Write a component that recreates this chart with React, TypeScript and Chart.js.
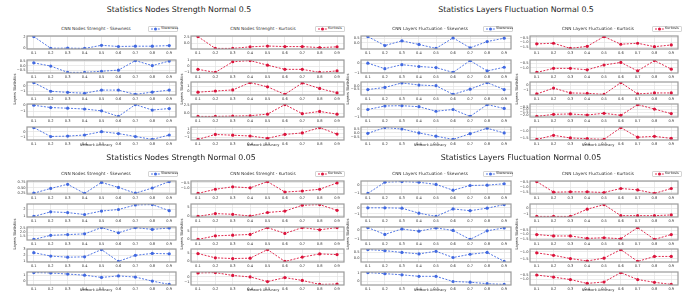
import React, { useEffect, useRef } from "react";
import { Chart, registerables } from "chart.js";

Chart.register(...registerables);

const FONT = "'DejaVu Sans', sans-serif";
const BLUE = "#4169e1";
const RED = "#dc143c";

// x axis: network accuracy
const accuracy = [0.1, 0.2, 0.3, 0.4, 0.5, 0.6, 0.7, 0.8, 0.9];

// ---- Statistics Nodes Strength Normal 0.5 ----
const nsN05Skew = [
  [2.0, 0.0, 0.02, -0.03, 0.5, 0.3, 0.35, 0.35, 0.45],
  [0.3, -0.05, -0.75, -0.75, -0.62, -0.5, 0.55, 0.0, 0.5],
  [0.57, -1.0, -1.2, -1.36, -0.79, -0.79, -1.57, -1.14, -0.79],
  [-0.1, -0.45, -0.55, -0.67, -0.95, -1.8, 0.0, -0.83, -0.6],
  [0.8, -0.93, -0.86, -0.64, 0.0, -0.36, -0.93, -1.5, -0.64],
];
const nsN05SkewTicks = [[0, 2], [-0.5, 0, 0.5], [-1, 0], [-1, 0], [-1, 0]];

const nsN05Kurt = [
  [2.6, -1.9, -1.9, -1.3, -1.0, -1.2, -1.2, -1.6, -1.3],
  [-0.5, -1.0, 0.75, 0.94, 0.19, -0.5, -0.5, -1.0, -0.75],
  [-0.15, 0.08, 0.3, 1.77, 0.92, -0.6, 1.7, 0.6, -0.3],
  [-0.9, -0.9, -0.8, -0.7, -0.23, 2.6, -0.1, 0.57, -0.23],
  [-1.6, -0.3, -0.5, -0.7, -1.3, -0.3, 0.1, 1.5, -0.2],
];
const nsN05KurtTicks = [[0, 2.5], [-1, 0, 1], [0, 1], [0, 2.5], [-1, 0, 1]];

// ---- Statistics Layers Fluctuation Normal 0.5 ----
const lfN05Skew = [
  [0.73, -0.31, 0.23, -0.19, -0.65, 0.58, -0.58, 0.15, 0.54],
  [0.04, -0.56, -0.12, -0.32, -0.44, -0.96, 0.32, -0.8, -0.4],
  [-0.56, -0.19, 0.63, 0.25, 0.13, -1.44, -0.5, 0.69, -0.56],
  [0.0, 0.48, 0.52, 0.38, -0.24, 0.0, -0.95, 0.67, 0.14],
  [-0.05, 0.71, 0.52, 0.0, -0.43, -0.86, -0.1, 0.62, 0.0],
];
const lfN05SkewTicks = [[0, 0.5], [-1, 0], [-0.5, 0], [-1, 0], [-0.5, 0, 0.5]];

const lfN05Kurt = [
  [-1.15, -1.08, -1.65, -1.42, -0.35, -1.19, -1.08, -1.46, -1.27],
  [-1.46, -1.04, -1.04, -1.19, -0.69, -0.42, -1.31, -0.23, -1.12],
  [-1.9, -0.58, -1.67, -1.75, -2.0, 0.67, -1.9, -1.67, -1.67],
  [-2.25, -1.88, -1.81, -2.0, -1.69, -2.06, -0.13, -0.94, -1.75],
  [-1.6, -1.32, -1.5, -1.55, -1.6, -0.79, -1.45, -1.39, -1.53],
];
const lfN05KurtTicks = [[-1.5, -1, -0.5], [-1, -0.5], [-1, 0], [-2, -1.5, -1, -0.5], [-1.5, -1]];

// ---- Statistics Nodes Strength Normal 0.05 ----
const nsN005Skew = [
  [0.23, 0.46, 0.66, 0.22, 0.75, 0.51, 0.23, 0.48, 0.79],
  [1.0, 1.63, 1.53, 1.26, 1.74, 1.95, 2.58, 2.63, 1.79],
  [1.0, 1.55, 1.65, 1.75, 2.6, 1.9, 2.6, 2.35, 2.55],
  [2.44, 1.88, 1.69, 1.75, 2.94, 1.0, 2.0, 2.31, 2.25],
  [1.57, 1.5, 1.29, 1.07, 0.64, 0.93, 0.71, -0.07, -0.71],
];
const nsN005SkewTicks = [[0.25, 0.5, 0.75], [1, 2], [1.5, 2, 2.5], [1, 2, 3], [0, 1]];

const nsN005Kurt = [
  [-1.53, -1.13, -0.9, -1.0, -0.4, -1.4, -1.3, -1.13, -0.53],
  [-0.4, 1.3, 0.87, -0.2, 1.96, 2.8, 6.3, 6.7, 3.26],
  [-0.2, 2.05, 2.5, 2.95, 7.3, 3.6, 7.3, 5.9, 7.3],
  [4.76, 1.9, 1.43, 1.67, 7.4, -0.48, 2.38, 4.52, 4.05],
  [0.79, 0.86, 0.29, 0.0, -0.93, -0.14, -0.71, -1.5, -1.43],
];
const nsN005KurtTicks = [[-1, -0.5], [0, 5], [0, 5], [0, 5], [-1, 0]];

// ---- Statistics Layers Fluctuation Normal 0.05 ----
const lfN005Skew = [
  [-1.0, 0.35, 0.43, 0.35, 0.09, -0.61, -0.04, 0.0, 0.17],
  [0.0, 0.0, -0.06, -0.88, -1.41, -0.18, -0.47, -0.06, 0.53],
  [0.33, -0.46, 0.17, -0.08, 0.29, 0.0, -1.04, -0.04, 0.29],
  [0.69, 0.61, 0.47, 0.36, 0.56, 0.08, 0.33, 0.47, -0.22],
  [1.0, 0.88, 0.75, 0.58, 0.58, 0.0, -0.08, -0.25, -0.33],
];
const lfN005SkewTicks = [[-1, 0], [-1, 0], [-1, 0], [0, 0.5], [0, 1]];

const lfN005Kurt = [
  [-0.47, -1.5, -1.47, -1.47, -1.53, -1.14, -1.28, -1.62, -1.14],
  [-1.47, -1.47, -1.47, -0.13, 0.73, -1.33, -1.33, -1.33, -1.2],
  [-1.0, -1.17, -1.17, -1.46, -1.38, -1.5, -0.17, -1.58, -1.0],
  [-1.08, -1.25, -1.48, -1.65, -1.45, -0.85, -1.68, -1.33, -1.33],
  [-0.46, -0.71, -1.0, -1.46, -1.29, -0.17, -1.0, -1.33, -1.58],
];
const lfN005KurtTicks = [[-1.5, -1, -0.5], [-1, 0], [-1.5, -1, -0.5], [-1.5, -1], [-1, -0.5]];

// ---- layout (positions only) ----
const COLS = [
  { left: 27, width: 149, cx: 96, ylabelX: 15, legendRight: 178 },
  { left: 191, width: 153, cx: 263, ylabelX: 182, legendRight: 345 },
  { left: 361, width: 150, cx: 430, ylabelX: 348, legendRight: 513 },
  { left: 530, width: 148, cx: 598, ylabelX: 517, legendRight: 682 },
];
const HALVES = [
  { titleY: 10, subY: 29, tops: [36, 60, 82, 104, 127], xlabelY: 146 },
  { titleY: 158, subY: 174, tops: [181, 204, 227, 249, 272], xlabelY: 291 },
];
const FRAME_H = 13;

const quadrants = [
  {
    title: "Statistics Nodes Strength Normal 0.5", half: 0, titleX: 179,
    panels: [
      { col: 0, sub: "CNN Nodes Strenght - Skewness", legend: "Skewness", color: BLUE, rows: nsN05Skew, ticks: nsN05SkewTicks },
      { col: 1, sub: "CNN Nodes Strenght - Kurtosis", legend: "Kurtosis", color: RED, rows: nsN05Kurt, ticks: nsN05KurtTicks },
    ],
  },
  {
    title: "Statistics Layers Fluctuation Normal 0.5", half: 0, titleX: 516,
    panels: [
      { col: 2, sub: "CNN Layers Fluctuation - Skewness", legend: "Skewness", color: BLUE, rows: lfN05Skew, ticks: lfN05SkewTicks },
      { col: 3, sub: "CNN Layers Fluctuation - Kurtosis", legend: "Kurtosis", color: RED, rows: lfN05Kurt, ticks: lfN05KurtTicks },
    ],
  },
  {
    title: "Statistics Nodes Strength Normal 0.05", half: 1, titleX: 181,
    panels: [
      { col: 0, sub: "CNN Nodes Strenght - Skewness", legend: "Skewness", color: BLUE, rows: nsN005Skew, ticks: nsN005SkewTicks },
      { col: 1, sub: "CNN Nodes Strenght - Kurtosis", legend: "Kurtosis", color: RED, rows: nsN005Kurt, ticks: nsN005KurtTicks },
    ],
  },
  {
    title: "Statistics Layers Fluctuation Normal 0.05", half: 1, titleX: 521,
    panels: [
      { col: 2, sub: "CNN Layers Fluctuation - Skewness", legend: "Skewness", color: BLUE, rows: lfN005Skew, ticks: lfN005SkewTicks },
      { col: 3, sub: "CNN Layers Fluctuation - Kurtosis", legend: "Kurtosis", color: RED, rows: lfN005Kurt, ticks: lfN005KurtTicks },
    ],
  },
];

function decimalsOf(ticks: number[]) {
  return Math.max(
    0,
    ...ticks.map((t) => {
      const s = String(t);
      const i = s.indexOf(".");
      return i < 0 ? 0 : s.length - i - 1;
    })
  );
}
function fmt(v: number, d: number) {
  const s = Math.abs(v).toFixed(d);
  return (v < 0 && Number(s) !== 0 ? "\u2212" : "") + s;
}

const framePlugin = {
  id: "frame",
  afterDatasetsDraw(chart: any) {
    const { ctx, chartArea: a } = chart;
    ctx.save();
    ctx.strokeStyle = "#9a9a9a";
    ctx.lineWidth = 1.2;
    ctx.strokeRect(a.left, a.top, a.right - a.left, a.bottom - a.top);
    ctx.restore();
  },
};

const PAD_L = 18, PAD_T = 4, PAD_R = 4, PAD_B = 7;

function Subplot({ left, top, w, h, values, ticks, color }: any) {
  const ref = useRef<HTMLCanvasElement>(null);
  const cw = PAD_L + w + PAD_R;
  const ch = PAD_T + h + PAD_B;
  useEffect(() => {
    const lo = Math.min(...values);
    const hi = Math.max(...values);
    const m = (hi - lo) * 0.05;
    const dec = decimalsOf(ticks);
    const chart = new Chart(ref.current as HTMLCanvasElement, {
      type: "line",
      data: {
        datasets: [
          {
            data: accuracy.map((a, i) => ({ x: a, y: values[i] })),
            borderColor: color,
            backgroundColor: color,
            borderWidth: 0.9,
            borderDash: [2, 1.4],
            pointRadius: 1.6,
            pointBorderWidth: 0,
            pointStyle: "circle",
            tension: 0,
          },
        ],
      },
      options: {
        animation: false,
        responsive: false,
        maintainAspectRatio: false,
        layout: { padding: { top: PAD_T, right: PAD_R, left: 0, bottom: 0 } },
        plugins: { legend: { display: false }, tooltip: { enabled: false } },
        scales: {
          x: {
            type: "linear",
            min: 0.06,
            max: 0.94,
            afterBuildTicks: (s: any) => {
              s.ticks = accuracy.map((v) => ({ value: v }));
            },
            afterFit: (s: any) => {
              s.height = PAD_B;
            },
            ticks: {
              autoSkip: false,
              maxRotation: 0,
              padding: 1.5,
              color: "#333",
              font: { size: 3.6, family: FONT },
              callback: (v: any) => Number(v).toFixed(1),
            },
            grid: { color: "#e2e2e2", lineWidth: 0.7, drawTicks: false },
            border: { display: false },
          },
          y: {
            type: "linear",
            min: lo - m,
            max: hi + m,
            afterBuildTicks: (s: any) => {
              s.ticks = ticks.map((v: number) => ({ value: v }));
            },
            afterFit: (s: any) => {
              s.width = PAD_L;
            },
            ticks: {
              autoSkip: false,
              padding: 1.5,
              color: "#333",
              font: { size: 3.6, family: FONT },
              callback: (v: any) => fmt(Number(v), dec),
            },
            grid: { color: "#e2e2e2", lineWidth: 0.7, drawTicks: false },
            border: { display: false },
          },
        },
      } as any,
      plugins: [framePlugin],
    });
    return () => chart.destroy();
  }, []);
  return (
    <canvas
      ref={ref}
      width={cw}
      height={ch}
      style={{ position: "absolute", left: left - PAD_L, top: top - PAD_T, width: cw, height: ch }}
    />
  );
}

function Text({ x, y, size, children, rotate, color }: any) {
  return (
    <div
      style={{
        position: "absolute",
        left: x,
        top: y,
        transform: `translate(-50%, -50%)${rotate ? " rotate(-90deg)" : ""}`,
        whiteSpace: "nowrap",
        fontFamily: FONT,
        fontSize: size,
        lineHeight: 1,
        color: color || "#333",
      }}
    >
      {children}
    </div>
  );
}

function Legend({ right, cy, color, text }: any) {
  const w = 30;
  return (
    <div
      style={{
        position: "absolute",
        left: right - w,
        top: cy - 3,
        width: w,
        height: 6,
        boxSizing: "border-box",
        border: "0.6px solid #d4d4d4",
        borderRadius: 1,
        background: "#fff",
        display: "flex",
        alignItems: "center",
        fontFamily: FONT,
        fontSize: 3.5,
        color: "#333",
        lineHeight: 1,
      }}
    >
      <svg width={9} height={4} style={{ marginLeft: 1.5, marginRight: 1.5, flex: "none" }}>
        <line x1={0} y1={2} x2={9} y2={2} stroke={color} strokeWidth={0.9} strokeDasharray="2 1.4" />
        <circle cx={4.5} cy={2} r={1.5} fill={color} />
      </svg>
      <span>{text}</span>
    </div>
  );
}

export default function App() {
  return (
    <div
      style={{
        position: "absolute",
        left: 0,
        top: 0,
        width: 696,
        height: 292,
        background: "#fff",
        overflow: "hidden",
      }}
    >
      {quadrants.map((q, qi) => {
        const half = HALVES[q.half];
        return (
          <React.Fragment key={qi}>
            <Text x={q.titleX} y={half.titleY} size={7.8} color="#222">
              {q.title}
            </Text>
            {q.panels.map((p, pi) => {
              const col = COLS[p.col];
              const midY = half.tops[2] + FRAME_H / 2;
              return (
                <React.Fragment key={pi}>
                  <Text x={col.cx} y={half.subY} size={4.3}>
                    {p.sub}
                  </Text>
                  <Legend right={col.legendRight} cy={half.subY} color={p.color} text={p.legend} />
                  {p.rows.map((vals: number[], ri: number) => (
                    <Subplot
                      key={ri}
                      left={col.left}
                      top={half.tops[ri]}
                      w={col.width}
                      h={FRAME_H}
                      values={vals}
                      ticks={p.ticks[ri]}
                      color={p.color}
                    />
                  ))}
                  <Text x={col.ylabelX} y={midY} size={3.8} rotate>
                    Layers Statistics
                  </Text>
                  <Text x={col.cx} y={half.xlabelY} size={3.6}>
                    Network Accuracy
                  </Text>
                </React.Fragment>
              );
            })}
          </React.Fragment>
        );
      })}
    </div>
  );
}
